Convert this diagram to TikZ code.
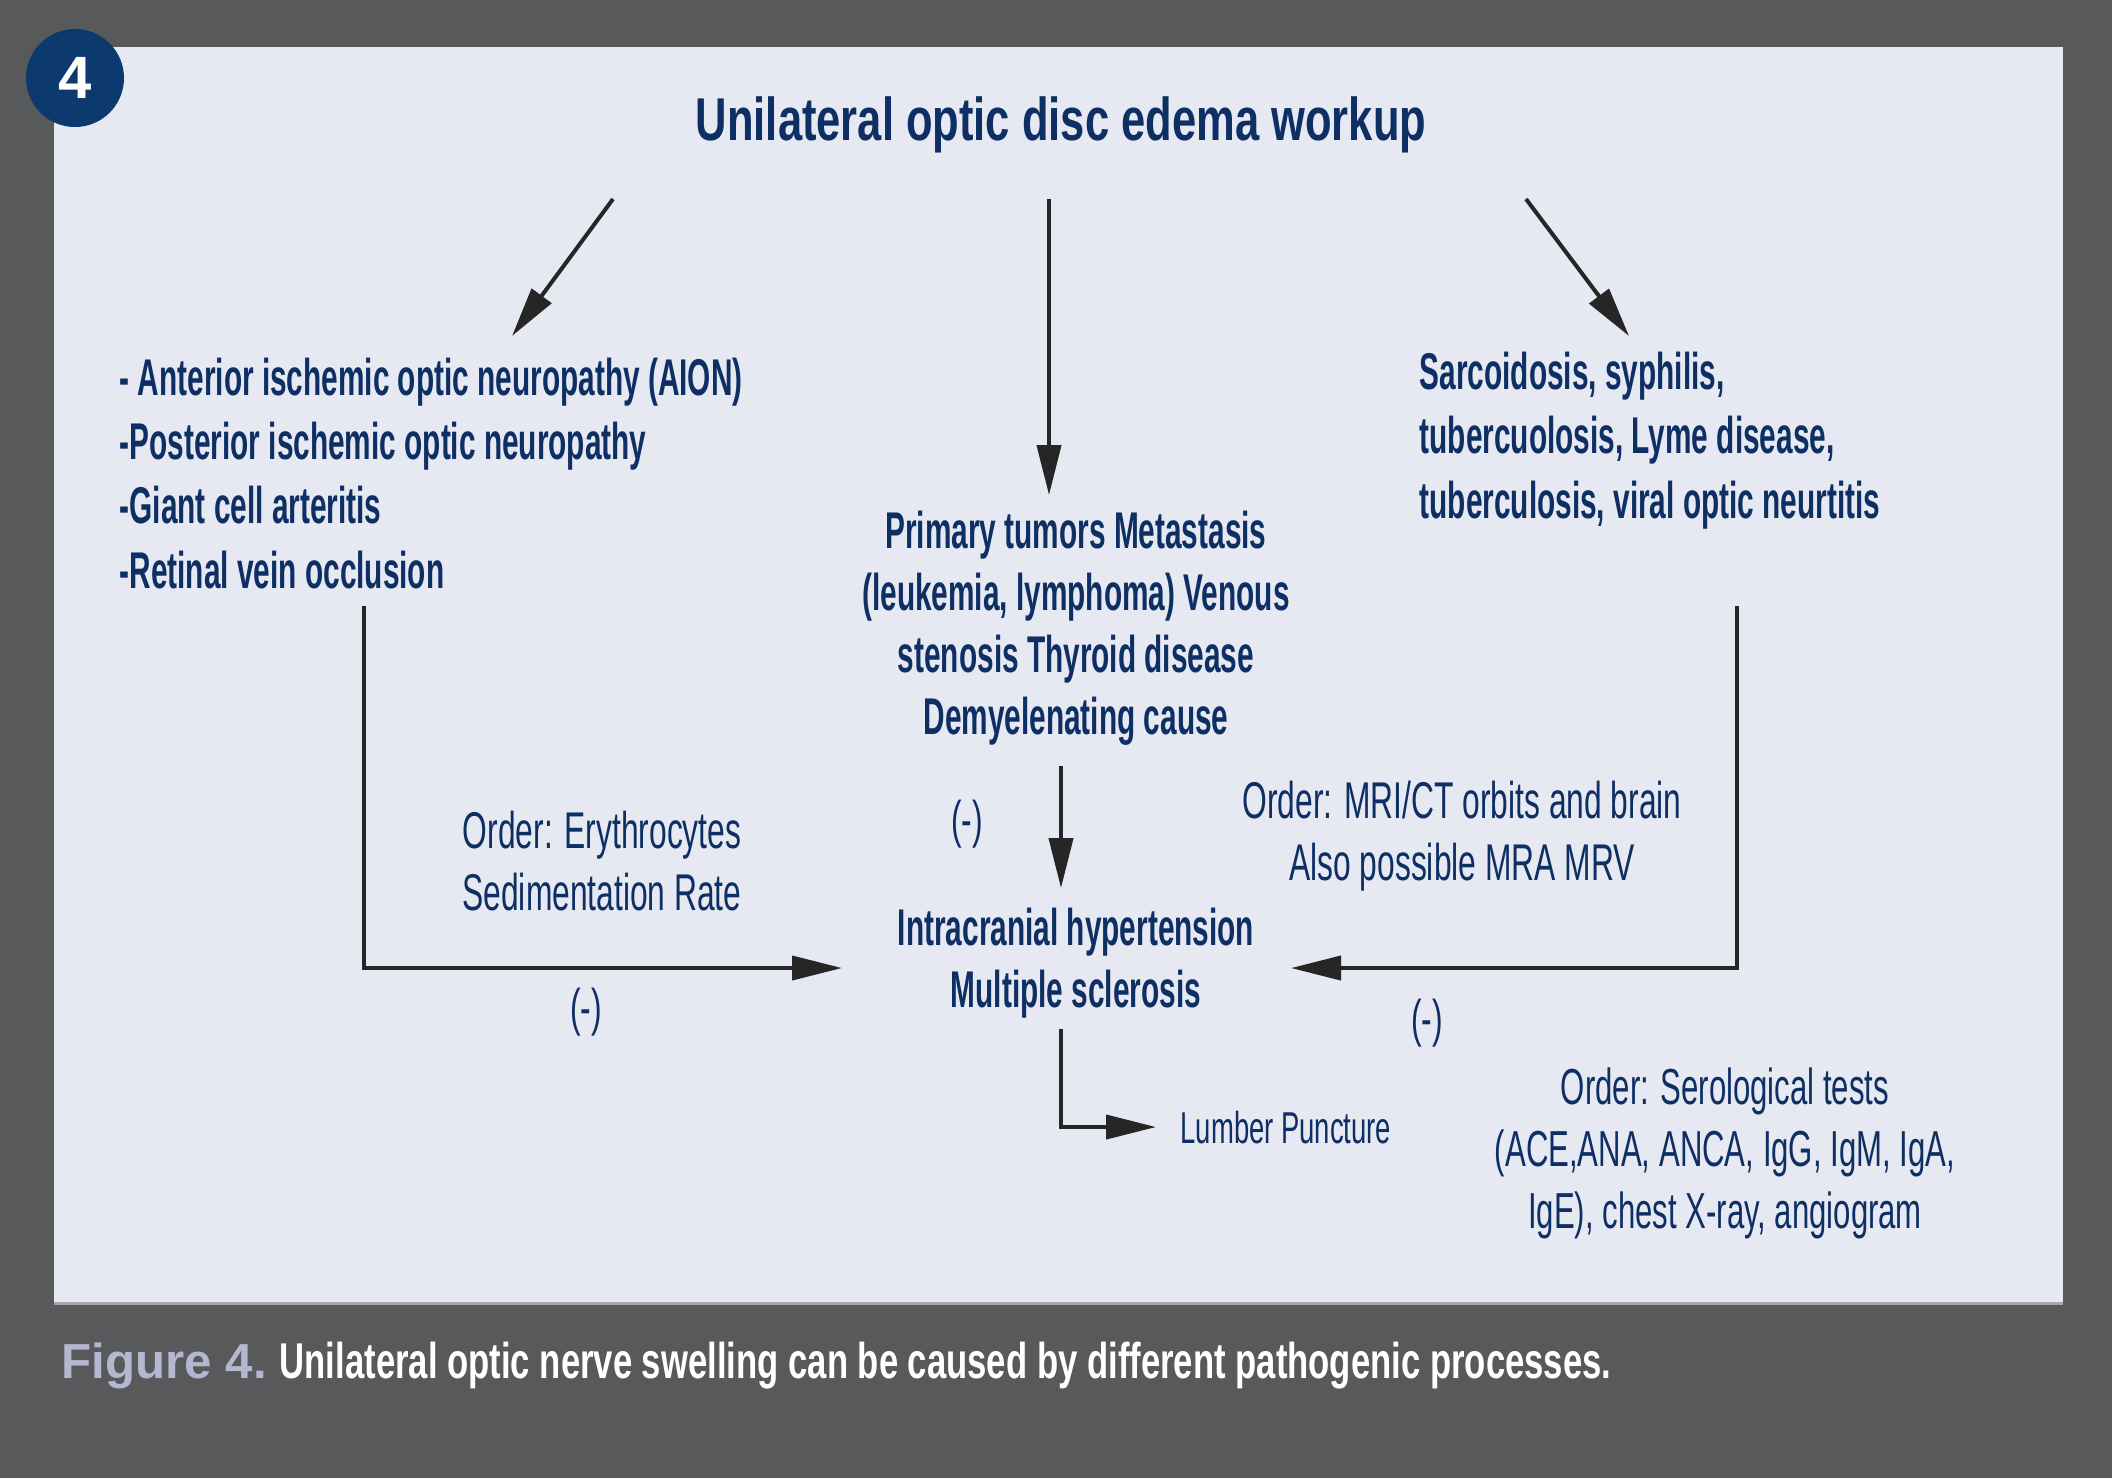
\documentclass[tikz,border=0pt]{standalone}
\usepackage{fontspec}
\setmainfont{Liberation Sans}
\newfontfamily\condfont[FakeStretch=0.577]{Liberation Sans}
\newfontfamily\lightfont[FakeStretch=0.615]{Liberation Sans}
\newfontfamily\headfont[FakeStretch=0.72]{Liberation Sans}
\newfontfamily\capfont[FakeStretch=0.69]{Liberation Sans}
\usetikzlibrary{arrows.meta}

\definecolor{slate}{HTML}{58595B}
\definecolor{panel}{HTML}{E6E8F2}
\definecolor{navy}{HTML}{0E2F63}
\definecolor{badge}{HTML}{0C3A6E}
\definecolor{lavender}{HTML}{B6B6D0}

\begin{document}
\begin{tikzpicture}[
        x=0.1mm, y=-0.1mm,
        heavy/.style={font=\condfont\bfseries\fontsize{14.7}{18.3}\selectfont, text=navy, inner sep=0pt},
        center heavy/.style={heavy, align=center, font=\condfont\bfseries\fontsize{14.7}{17.6}\selectfont},
        light/.style={font=\lightfont\fontsize{14.7}{17.4}\selectfont, text=navy, inner sep=0pt, align=center},
        arrow/.style={-{Triangle[length=5mm,width=2.4mm]}, line width=0.4mm, draw=black!85}
    ]
% Frame
        \useasboundingbox (0,0) rectangle (2112,1478);
        \fill[slate] (0,0) rectangle (2112,1478);
        \fill[panel] (54,47) rectangle (2063,1303);
        \draw[gray!70, line width=0.3mm] (54,1303) -- (2063,1303);
        \fill[badge] (75,78) circle (49);
        \node[text=white, font=\bfseries\fontsize{17}{17}\selectfont] (badge) at (75,78) {4};

% Title
        \node[heavy, anchor=base, font=\headfont\bfseries\fontsize{17.2}{20}\selectfont] (title) at (1061,140) {Unilateral optic disc edema workup};

% Row 1 (base = last line)
        \node[heavy, anchor=base west, align=left] (vasc) at (119,588) {- Anterior ischemic optic neuropathy (AION)\\-Posterior ischemic optic neuropathy\\-Giant cell arteritis\\-Retinal vein occlusion};
        \node[center heavy, anchor=base] (tumor) at (1076,734) {Primary tumors Metastasis\\(leukemia, lymphoma) Venous\\stenosis Thyroid disease\\Demyelenating cause};
        \node[heavy, anchor=base west, align=left] (infl) at (1419,518) {Sarcoidosis, syphilis,\\tubercuolosis, Lyme disease,\\tuberculosis, viral optic neurtitis};

% Row 2
        \node[center heavy, anchor=base] (ich) at (1076,1007) {Intracranial hypertension\\Multiple sclerosis};
        \node[light, anchor=base] (esr) at (602,910) {Order: Erythrocytes\\Sedimentation Rate};
        \node[light, anchor=base] (mri) at (1462,880) {Order: MRI/CT orbits and brain\\Also possible MRA MRV};
        \node[light] (negl) at (586,1012) {(-)};
        \node[light] (negc) at (967,824) {(-)};
        \node[light] (negr) at (1427,1023) {(-)};
        \node[light, anchor=base west, font=\lightfont\fontsize{12.7}{15}\selectfont] (lp) at (1180,1143) {Lumber Puncture};
        \node[light, anchor=base, font=\lightfont\fontsize{14.4}{17.6}\selectfont] (sero) at (1725,1228) {Order: Serological tests\\(ACE,ANA, ANCA, IgG, IgM, IgA,\\IgE), chest X-ray, angiogram};

% Arrow ends
        \coordinate (lstart) at (613,199);
        \coordinate (lend) at (512,336);
        \coordinate (cstart) at (1049,199);
        \coordinate (cend) at (1049,495);
        \coordinate (rstart) at (1526,199);
        \coordinate (rend) at (1629,336);
        \coordinate (vascout) at (364,606);
        \coordinate (inflout) at (1737,606);
        \coordinate (ichleft) at (842,968);
        \coordinate (ichright) at (1291,968);
        \coordinate (tumorout) at (1061,766);
        \coordinate (ichtop) at (1061,888);
        \coordinate (ichout) at (1061,1029);
        \coordinate (lpin) at (1156,1127);

% Arrows
        \draw[arrow] (lstart) -- (lend);
        \draw[arrow] (cstart) -- (cend);
        \draw[arrow] (rstart) -- (rend);
        \draw[arrow] (vascout) |- (ichleft);
        \draw[arrow] (inflout) |- (ichright);
        \draw[arrow] (tumorout) -- (ichtop);
        \draw[arrow] (ichout) |- (lpin);

% Caption
        \node[anchor=base west, inner sep=0pt, text=lavender, font=\bfseries\fontsize{14}{16}\selectfont] (figno) at (61,1378) {Figure 4.};
        \node[anchor=base west, inner sep=0pt, text=white, font=\capfont\bfseries\fontsize{14.3}{16}\selectfont] (caption) at (279,1378) {Unilateral optic nerve swelling can be caused by different pathogenic processes.};
    \end{tikzpicture}
\end{document}
